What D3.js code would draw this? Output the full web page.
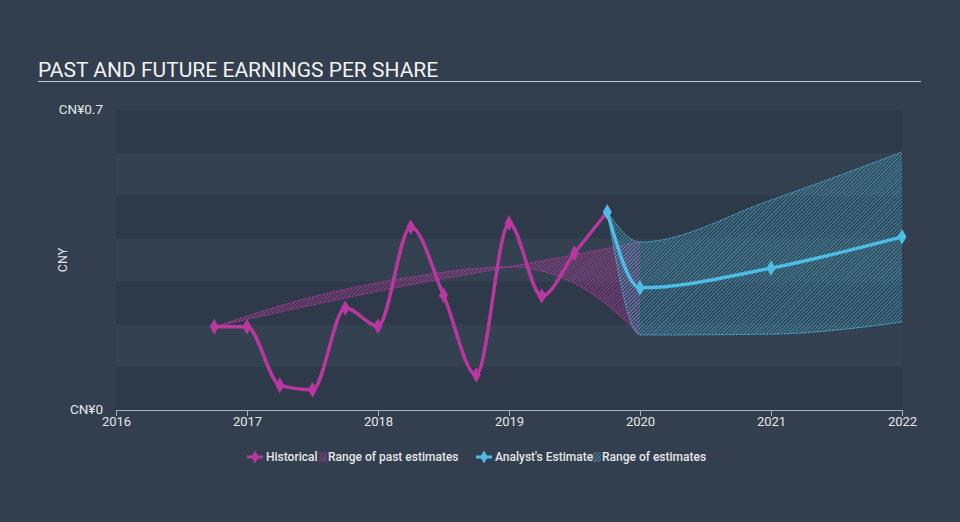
<!DOCTYPE html>
<html><head><meta charset="utf-8">
<script src="https://cdn.jsdelivr.net/npm/d3@7"></script>
<style>
html,body{margin:0;padding:0;background:#333f4e;}
svg{display:block;font-family:Roboto,"DejaVu Sans",sans-serif;}
</style></head>
<body>
<svg id="chart" width="960" height="522"></svg>
<script>
// ---- data ----
const title = "PAST AND FUTURE EARNINGS PER SHARE";
const yTickLabels = ["CN¥0", "CN¥0.7"];
const yTickValues = [0, 0.7];
const xTickYears = [2016, 2017, 2018, 2019, 2020, 2021, 2022];
const histTimes = [2016.75, 2017.0, 2017.25, 2017.5, 2017.75, 2018.0, 2018.25, 2018.5, 2018.75, 2019.0, 2019.25, 2019.5, 2019.75];
const histValues = [0.194, 0.194, 0.058, 0.047, 0.238, 0.196, 0.427, 0.268, 0.082, 0.436, 0.266, 0.366, 0.462];
const estTimes = [2019.75, 2020.0, 2021.0, 2022.0];
const estValues = [0.462, 0.285, 0.331, 0.404];
const estLow = [0.462, 0.175, 0.177, 0.205];
const estHigh = [0.462, 0.392, 0.490, 0.602];
const pastRangeTimes = [2016.75, 2017.5, 2018.25, 2019.0, 2019.5, 2019.75, 2020.0];
const pastRangeA = [0.194, 0.245, 0.292, 0.334, 0.362, 0.377, 0.392];
const pastRangeB = [0.194, 0.264, 0.31, 0.334, 0.295, 0.245, 0.175];
const legendLabels = ["Historical", "Range of past estimates", "Analyst's Estimate", "Range of estimates"];

// ---- layout ----
const svg = d3.select("#chart");
const W = 960, H = 522;
const mLeft = 116, mRight = 902, mTop = 110, mBottom = 410;
const pink = "#b9389f", blue = "#4cbde3";

const x = d3.scaleLinear().domain([2016, 2022]).range([mLeft, mRight]);
const y = d3.scaleLinear().domain([0, 0.7]).range([mBottom, mTop]);

svg.append("rect").attr("width", W).attr("height", H).attr("fill", "#333f4e");

// defs - hatch patterns
const defs = svg.append("defs");
function hatch(id, color, op) {
  const p = defs.append("pattern").attr("id", id).attr("patternUnits", "userSpaceOnUse")
    .attr("width", 2.6).attr("height", 2.6).attr("patternTransform", "rotate(45)");
  p.append("rect").attr("x", 0).attr("y", 0).attr("width", 1.1).attr("height", 2.6).attr("fill", color).attr("opacity", op);
}
hatch("hatchPink", pink, 0.75);
hatch("hatchBlue", blue, 0.6);

// alternating bands
const bands = d3.range(0, 0.7, 0.1);
svg.append("g").selectAll("rect").data(bands).join("rect")
  .attr("x", mLeft).attr("width", mRight - mLeft)
  .attr("y", d => y(d + 0.1)).attr("height", d => y(d) - y(d + 0.1))
  .attr("fill", (d, i) => i % 2 === 0 ? "#2e3a4a" : "#334150");

// title
svg.append("text").attr("x", 38).attr("y", 77).attr("fill", "#f2f2f2")
  .attr("font-size", 21).text(title);
svg.append("line").attr("x1", 38).attr("x2", 921).attr("y1", 81.5).attr("y2", 81.5)
  .attr("stroke", "#c4c8cc").attr("stroke-width", 1.2);

// y labels
svg.append("g").selectAll("text").data(yTickValues).join("text")
  .attr("x", 103).attr("y", d => y(d) + 4)
  .attr("text-anchor", "end").attr("fill", "#e4e6e8").attr("font-size", 13.5)
  .text((d, i) => yTickLabels[i]);
svg.append("text").attr("transform", `translate(67,${(mTop + mBottom) / 2}) rotate(-90)`)
  .attr("text-anchor", "middle").attr("fill", "#e4e6e8").attr("font-size", 12.5).text("CNY");

// x axis
const xAxis = d3.axisBottom(x).tickValues(xTickYears).tickFormat(d3.format("d")).tickSize(6).tickSizeOuter(0);
const gx = svg.append("g").attr("transform", `translate(0,${mBottom})`).call(xAxis);
gx.select(".domain").attr("stroke", "#a9b0b8");
gx.selectAll(".tick line").attr("stroke", "#a9b0b8");
gx.selectAll(".tick text").attr("fill", "#e4e6e8").attr("font-size", 13).attr("font-family", "Roboto").attr("dy", "0.55em");

const curve = d3.curveMonotoneX;

// past range
const pastData = pastRangeTimes.map((t, i) => ({t, a: pastRangeA[i], b: pastRangeB[i]}));
svg.append("path").datum(pastData)
  .attr("d", d3.area().x(d => x(d.t)).y0(d => y(d.a)).y1(d => y(d.b)).curve(curve))
  .attr("fill", "url(#hatchPink)");
["a", "b"].forEach(k => {
  svg.append("path").datum(pastData)
    .attr("d", d3.line().x(d => x(d.t)).y(d => y(d[k])).curve(curve))
    .attr("fill", "none").attr("stroke", pink).attr("stroke-width", 1).attr("stroke-dasharray", "2,1").attr("opacity", 0.85);
});

// estimate range
const estData = estTimes.map((t, i) => ({t, v: estValues[i], lo: estLow[i], hi: estHigh[i]}));
svg.append("path").datum(estData)
  .attr("d", d3.area().x(d => x(d.t)).y0(d => y(d.lo)).y1(d => y(d.hi)).curve(curve))
  .attr("fill", "url(#hatchBlue)");
["lo", "hi"].forEach(k => {
  svg.append("path").datum(estData)
    .attr("d", d3.line().x(d => x(d.t)).y(d => y(d[k])).curve(curve))
    .attr("fill", "none").attr("stroke", blue).attr("stroke-width", 1).attr("stroke-dasharray", "2,1").attr("opacity", 0.85);
});

// historical line
const histData = histTimes.map((t, i) => ({t, v: histValues[i]}));
svg.append("path").datum(histData)
  .attr("d", d3.line().x(d => x(d.t)).y(d => y(d.v)).curve(curve))
  .attr("fill", "none").attr("stroke", pink).attr("stroke-width", 3.5);
const diamond = d3.symbol().type(d3.symbolDiamond).size(70);
svg.append("g").selectAll("path").data(histData).join("path")
  .attr("transform", d => `translate(${x(d.t)},${y(d.v)})`).attr("d", diamond).attr("fill", pink);

// estimate line
svg.append("path").datum(estData)
  .attr("d", d3.line().x(d => x(d.t)).y(d => y(d.v)).curve(curve))
  .attr("fill", "none").attr("stroke", blue).attr("stroke-width", 3.5);
svg.append("g").selectAll("path").data(estData).join("path")
  .attr("transform", d => `translate(${x(d.t)},${y(d.v)})`).attr("d", diamond).attr("fill", blue);

// legend
const lg = svg.append("g").attr("font-size", 12).attr("font-weight", 500).attr("fill", "#e4e6e8");
function lineIcon(cx, color) {
  lg.append("line").attr("x1", cx - 8).attr("x2", cx + 8).attr("y1", 457).attr("y2", 457).attr("stroke", color).attr("stroke-width", 3);
  lg.append("path").attr("transform", `translate(${cx},457)`).attr("d", d3.symbol().type(d3.symbolDiamond).size(50)).attr("fill", color);
}
function hatchIcon(cx, id) {
  lg.append("rect").attr("x", cx - 4).attr("y", 452).attr("width", 8).attr("height", 10).attr("fill", `url(#${id})`);
}
lineIcon(255, pink);
lg.append("text").attr("x", 266).attr("y", 461).text(legendLabels[0]);
hatchIcon(323, "hatchPink");
lg.append("text").attr("x", 328).attr("y", 461).text(legendLabels[1]);
lineIcon(484, blue);
lg.append("text").attr("x", 495).attr("y", 461).text(legendLabels[2]);
hatchIcon(597, "hatchBlue");
lg.append("text").attr("x", 602).attr("y", 461).text(legendLabels[3]);
</script>
</body></html>
